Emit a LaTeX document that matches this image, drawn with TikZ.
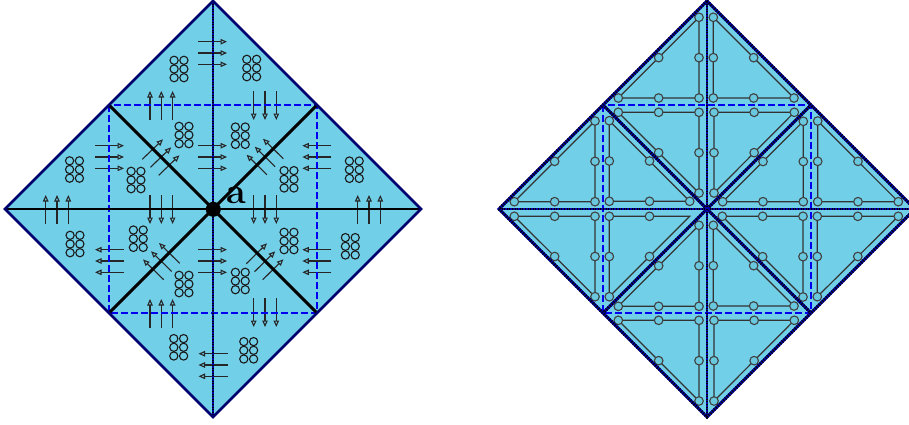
\documentclass[tikz,border=0pt]{standalone}
\usepackage{amsmath}
\usepackage{xcolor}
\usetikzlibrary{arrows.meta}
\definecolor{sky}{HTML}{72CFE8}
\definecolor{navy}{HTML}{00006E}
\definecolor{dashblue}{HTML}{0000F0}
\definecolor{bead}{HTML}{6AC8DE}
\tikzset{
  outline/.style={draw=navy, line width=2.8pt, line join=miter},
  spine/.style={draw=black, line width=2.9pt},
  spineblue/.style={draw=blue!65!black, line width=2.9pt},
  dotted spine/.style={draw=black, line width=2.9pt, dash pattern=on 1pt off 1.6pt},
  inner square/.style={draw=dashblue, line width=2.4pt, dash pattern=on 7pt off 3pt},
  flux/.style={-{Triangle[open, length=6.5pt, width=5.5pt]}, line width=1.1pt, draw=black!85},
  beadline/.style={draw=black!80, line width=1.2pt},
  beaddot/.style={draw=black!75, fill=bead, line width=1.1pt},
  ring/.style={draw=black!90, line width=1.1pt},
}
% six rings of one particle block, given its centre
\newcommand{\ringblock}[2]{
  \foreach \rx in {-4.9,4.9}
    \foreach \ry in {-8.7,0,8.7}
      \draw[ring] (#1+\rx,#2+\ry) circle (4.1);
}
% three flux arrows: start, end, spacing
\newcommand{\fluxset}[6]{
  \foreach \k in {0,1,2}
    \draw[flux] (#1+\k*#5,#2+\k*#6) -- (#3+\k*#5,#4+\k*#6);
}
% one small triangle with a bead at corners and edge midpoints
\newcommand{\beadtri}[6]{
  \draw[beadline] (#1,#2) -- (#3,#4) -- (#5,#6) -- cycle;
  \draw[beaddot] (#1,#2) circle (4.3);
  \draw[beaddot] (#3,#4) circle (4.3);
  \draw[beaddot] (#5,#6) circle (4.3);
  \draw[beaddot] ({(#1+#3)/2},{(#2+#4)/2}) circle (4.3);
  \draw[beaddot] ({(#3+#5)/2},{(#4+#6)/2}) circle (4.3);
  \draw[beaddot] ({(#1+#5)/2},{(#2+#6)/2}) circle (4.3);
}
\begin{document}
\begin{tikzpicture}[x=1pt, y=-1pt]
  \useasboundingbox (0,0) rectangle (909,424);

  % Left diamond
  \fill[sky] (213,1) -- (421,209) -- (213,417) -- (5,209) -- cycle;
  \foreach \bx/\by in {179/69, 184/135, 74.5/169.5, 136/180, 251.7/68, 240.3/135.7, 354.3/169.7, 289/179.3,
                       75/244, 138.3/238.7, 184/284, 178.7/347.3, 350.3/246.3, 289/241, 240.3/281, 248.7/350.3}
    {\ringblock{\bx}{\by}}

  % Flux arrows, horizontal
  \fluxset{198}{41.7}{227}{41.7}{0}{11.3}
  \fluxset{198}{145.7}{227}{145.7}{0}{11.3}
  \fluxset{95}{145.7}{124}{145.7}{0}{11.3}
  \fluxset{331.3}{145.7}{302.3}{145.7}{0}{11.3}
  \fluxset{124}{249.7}{95}{249.7}{0}{11.3}
  \fluxset{198}{249.7}{227}{249.7}{0}{11.3}
  \fluxset{331.3}{249.7}{302.3}{249.7}{0}{11.3}
  \fluxset{227.5}{353.7}{198.5}{353.7}{0}{11.3}
  % Flux arrows, vertical
  \fluxset{150}{120}{150}{91}{11.3}{0}
  \fluxset{253.7}{91}{253.7}{120}{11.3}{0}
  \fluxset{45.7}{224}{45.7}{195}{11.3}{0}
  \fluxset{150}{195}{150}{224}{11.3}{0}
  \fluxset{253.7}{195}{253.7}{224}{11.3}{0}
  \fluxset{357.7}{224}{357.7}{195}{11.3}{0}
  \fluxset{150}{328}{150}{299}{11.3}{0}
  \fluxset{253.7}{298}{253.7}{327}{11.3}{0}
  % Flux arrows, diagonal
  \fluxset{142.3}{159.3}{163}{139.3}{8.2}{8}
  \fluxset{283.3}{158.7}{263}{138.7}{-8.2}{8}
  \fluxset{179.7}{263.3}{159}{243}{-8}{8.2}
  \fluxset{246.3}{263.7}{267}{243.3}{8.2}{8}

  % Left frame
  \draw[inner square] (109,105) rectangle (317,313);
  \draw[spine] (109,105) -- (317,313);
  \draw[spine] (317,105) -- (109,313);
  \draw[spine] (5,209) -- (421,209);
  \draw[spineblue] (213,1) -- (213,417);
  \draw[dotted spine] (213,1) -- (213,417);
  \draw[outline] (213,1) -- (421,209) -- (213,417) -- (5,209) -- cycle;
  \fill[black] (213.3,209.3) circle (7.5);
  \node[font=\fontsize{36}{36}\selectfont\bfseries, inner sep=0pt] (pointa) at (236.3,195.3) {a};

  % Right diamond
  \fill[sky] (707,1) -- (915,209) -- (707,417) -- (499,209) -- cycle;
  \beadtri{699}{17.3}{699}{98}{618.3}{98}
  \beadtri{699}{112.3}{699}{193}{618.3}{112.3}
  \beadtri{609.3}{120.7}{609.3}{201.3}{689.7}{201.3}
  \beadtri{595}{121}{595}{201.7}{514.3}{201.7}
  \beadtri{713.3}{17.3}{713.3}{98}{794}{98}
  \beadtri{714}{112.3}{714}{193}{794.3}{112.3}
  \beadtri{803.3}{121.3}{803.3}{201.7}{722.7}{201.7}
  \beadtri{817.7}{121}{817.7}{201.7}{898.3}{201.7}
  \beadtri{514.3}{216.3}{595}{216.3}{595}{296.7}
  \beadtri{699}{225.3}{699}{306.3}{618.3}{306.3}
  \beadtri{699}{320.3}{699}{401}{618.3}{320.3}
  \beadtri{713.3}{225.3}{713.3}{306}{794}{306}
  \beadtri{722.3}{216.3}{803}{216.3}{803}{297}
  \beadtri{817.3}{216.3}{817.3}{296.7}{898.3}{216.3}
  \beadtri{714}{320.3}{714}{401}{794.3}{320.3}
  % this one has no bead on its far corner
  \draw[beadline] (609.3,216.3) -- (609.3,296.7) -- (689.7,216.3) -- cycle;
  \foreach \bx/\by in {609.3/216.3, 609.3/256.5, 609.3/296.7, 649.5/216.3, 649.5/256.5}
    \draw[beaddot] (\bx,\by) circle (4.3);

  % Right frame
  \draw[inner square] (603,105) rectangle (811,313);
  \foreach \sa/\sb/\ea/\eb in {603/105/811/313, 811/105/603/313, 499/209/915/209, 707/1/707/417}{
    \draw[spineblue] (\sa,\sb) -- (\ea,\eb);
    \draw[dotted spine] (\sa,\sb) -- (\ea,\eb);
  }
  \draw[spineblue] (707,1) -- (915,209) -- (707,417) -- (499,209) -- cycle;
  \draw[dotted spine] (707,1) -- (915,209) -- (707,417) -- (499,209) -- cycle;
\end{tikzpicture}
\end{document}
